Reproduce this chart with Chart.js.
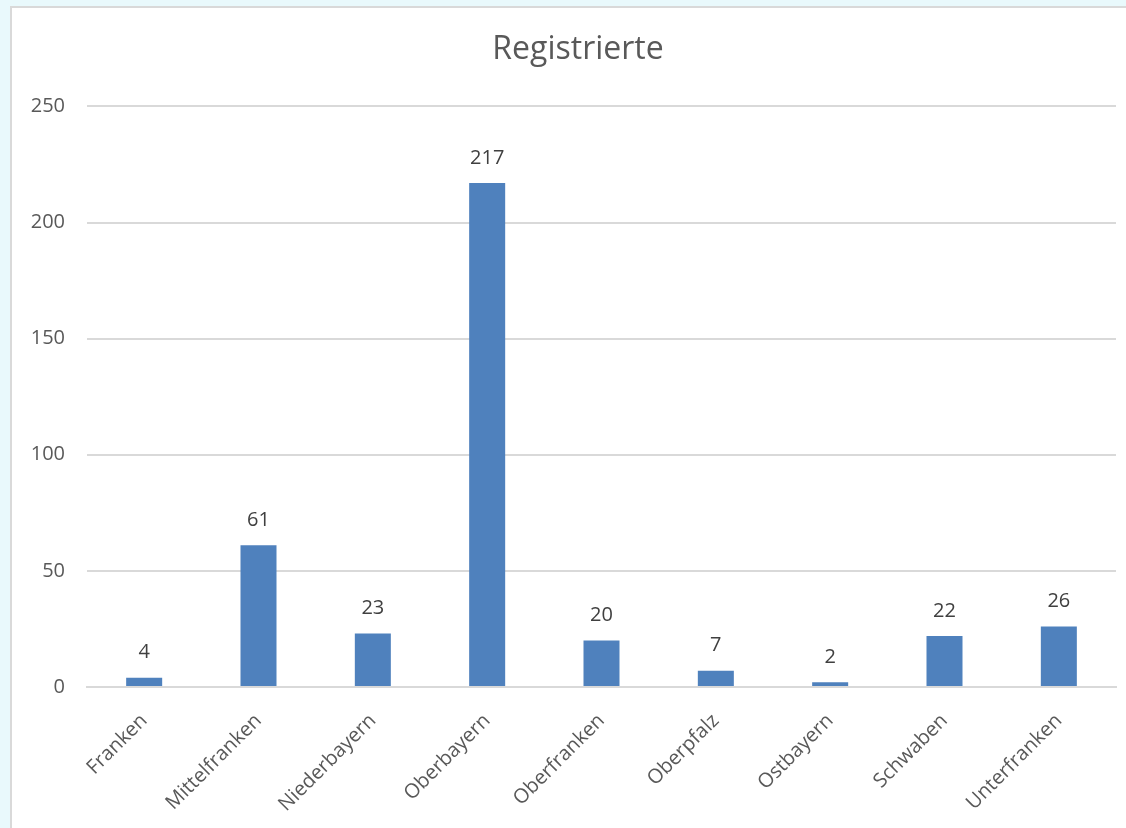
<!DOCTYPE html>
<html>
<head>
<meta charset="utf-8">
<script src="https://cdn.jsdelivr.net/npm/chart.js@4"></script>
<style>
  html, body { margin: 0; padding: 0; overflow: hidden; background: #e9f9fc; }
  #box { position: absolute; left: 10px; top: 6px; width: 1132px; height: 830px; border: 2px solid #d9d9d9; background: #fff; }
  canvas { display: block; }
</style>
</head>
<body>
<div id="box"><canvas id="c" width="1132" height="830"></canvas></div>
<script>
const categories = ['Franken', 'Mittelfranken', 'Niederbayern', 'Oberbayern', 'Oberfranken', 'Oberpfalz', 'Ostbayern', 'Schwaben', 'Unterfranken'];
const registrierte = [4, 61, 23, 217, 20, 7, 2, 22, 26];
const yMin = 0, yMax = 250, yStep = 50;

const FONT = '"Open Sans", sans-serif';

// Werte über den Balken
const valueLabels = {
  id: 'valueLabels',
  afterDatasetsDraw(chart) {
    const ctx = chart.ctx;
    const meta = chart.getDatasetMeta(0);
    ctx.save();
    ctx.font = '20px ' + FONT;
    ctx.fillStyle = '#404040';
    ctx.textAlign = 'center';
    ctx.textBaseline = 'middle';
    meta.data.forEach((bar, i) => {
      ctx.fillText(String(registrierte[i]), bar.x, bar.y - 25);
    });
    ctx.restore();
  }
};

new Chart(document.getElementById('c'), {
  type: 'bar',
  data: {
    labels: categories,
    datasets: [{
      label: 'Registrierte',
      data: registrierte,
      backgroundColor: '#4f81bd',
      borderWidth: 0,
      categoryPercentage: 1,
      barPercentage: 0.315
    }]
  },
  options: {
    responsive: false,
    animation: false,
    layout: { padding: 0 },
    plugins: {
      legend: { display: false },
      tooltip: { enabled: false },
      title: {
        display: true,
        text: 'Registrierte',
        color: '#595959',
        font: { family: FONT, size: 32, weight: 'normal' },
        padding: { top: 23, bottom: 37 }
      }
    },
    scales: {
      x: {
        grid: { display: false, drawTicks: false },
        border: { display: true, color: '#d9d9d9', width: 2 },
        ticks: {
          color: '#595959',
          font: { family: FONT, size: 20 },
          minRotation: 45,
          maxRotation: 45,
          padding: 22
        },
        afterFit: s => { s.height = 151; }
      },
      y: {
        min: yMin,
        max: yMax,
        grid: { color: '#d9d9d9', lineWidth: 2, drawTicks: false },
        border: { display: false },
        ticks: {
          stepSize: yStep,
          color: '#595959',
          font: { family: FONT, size: 20 },
          padding: 22
        },
        afterFit: s => { s.width = 75; }
      },
      // leerer Rand rechts, damit der Titel über der ganzen Fläche zentriert bleibt
      yRight: {
        position: 'right',
        min: yMin,
        max: yMax,
        grid: { display: false, drawTicks: false },
        border: { display: false },
        ticks: { display: false },
        afterFit: s => { s.width = 28; }
      }
    }
  },
  plugins: [valueLabels]
});
</script>
</body>
</html>
